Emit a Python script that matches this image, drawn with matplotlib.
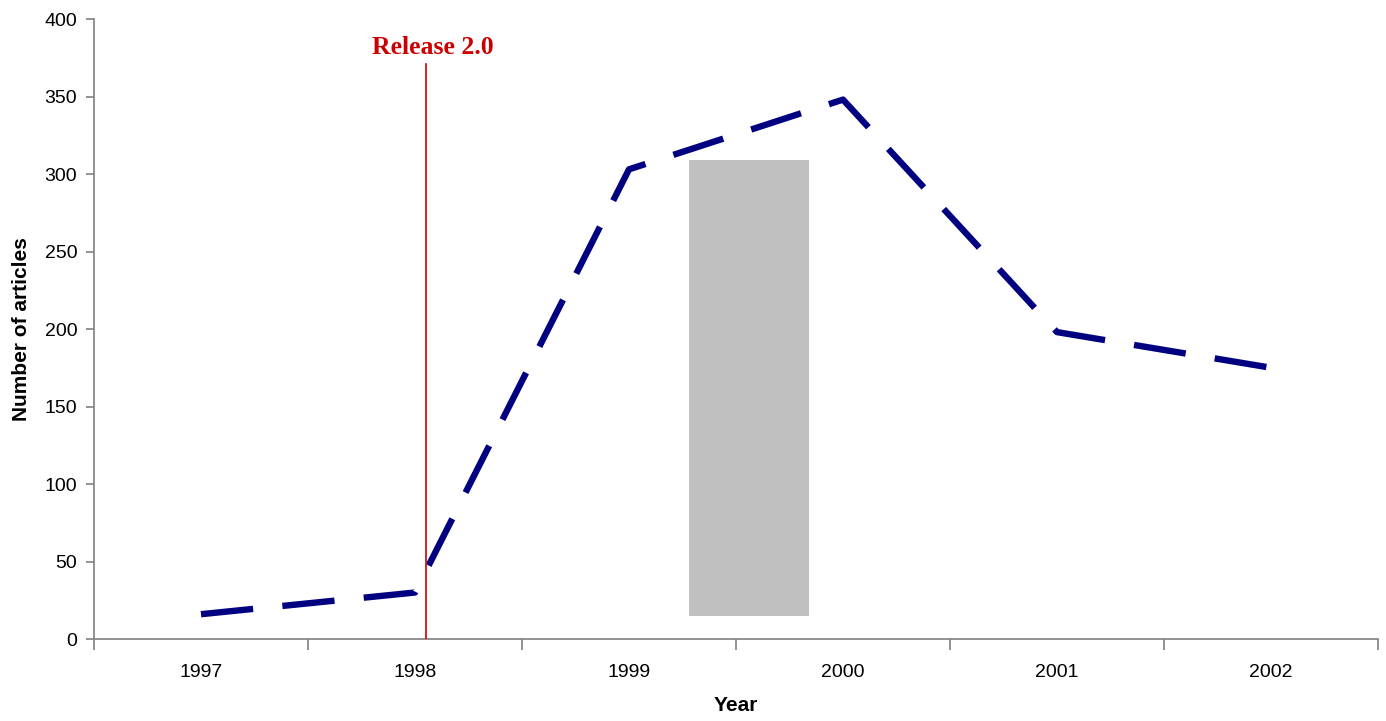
import numpy as np
import matplotlib.pyplot as plt
from matplotlib.patches import Rectangle

years = ["1997", "1998", "1999", "2000", "2001", "2002"]
articles = [16, 30, 303, 348, 198, 175]

release_pos = 1.05        # just after the 1998 category centre
release_top = 371
shade_x = (2.28, 2.84)
shade_y = (15, 309)

fig = plt.figure(figsize=(13.86, 7.21), dpi=100)
ax = fig.add_axes([94 / 1386, 1 - 639 / 721, (1378 - 94) / 1386, (639 - 19) / 721])

x = np.arange(len(years))

ax.add_patch(Rectangle((shade_x[0], shade_y[0]), shade_x[1] - shade_x[0],
                       shade_y[1] - shade_y[0], facecolor="#c0c0c0", edgecolor="none", zorder=1))

ax.plot(x, articles, color="#000080", linewidth=4.6, dashes=(8.2, 4.6),
        solid_capstyle="butt", dash_capstyle="butt", zorder=3)

ax.plot([release_pos, release_pos], [0, release_top], color="#cc0000", linewidth=1.2, zorder=4)
ax.text(release_pos + 0.035, release_top + 3, "Release 2.0", color="#cc0000",
        family="Liberation Serif", fontweight="bold", fontsize=18.5,
        ha="center", va="bottom")

ax.set_xlim(-0.5, len(years) - 0.5)
ax.set_ylim(0, 400)
ax.set_yticks(range(0, 401, 50))
ax.set_xticks(np.arange(-0.5, len(years), 1.0))
ax.set_xticklabels([])
ax.set_xticks(x, minor=True)
ax.set_xticklabels(years, minor=True)

for side in ("top", "right"):
    ax.spines[side].set_visible(False)
for side in ("left", "bottom"):
    ax.spines[side].set_color("#808080")
    ax.spines[side].set_linewidth(1.2)

ax.tick_params(axis="y", direction="out", length=6, width=1.2, color="#808080",
               labelsize=14, pad=6)
ax.tick_params(axis="x", which="major", direction="out", length=8, width=1.2, color="#808080")
ax.tick_params(axis="x", which="minor", length=0, labelsize=14, pad=18)
for lbl in ax.get_xticklabels(minor=True) + ax.get_yticklabels():
    lbl.set_family("Liberation Sans")

ax.set_xlabel("Year", family="Liberation Sans", fontweight="bold", fontsize=15, labelpad=11)
ax.set_ylabel("Number of articles", family="Liberation Sans", fontweight="bold", fontsize=15,
              labelpad=10)

fig.savefig("out.png", dpi=100)
